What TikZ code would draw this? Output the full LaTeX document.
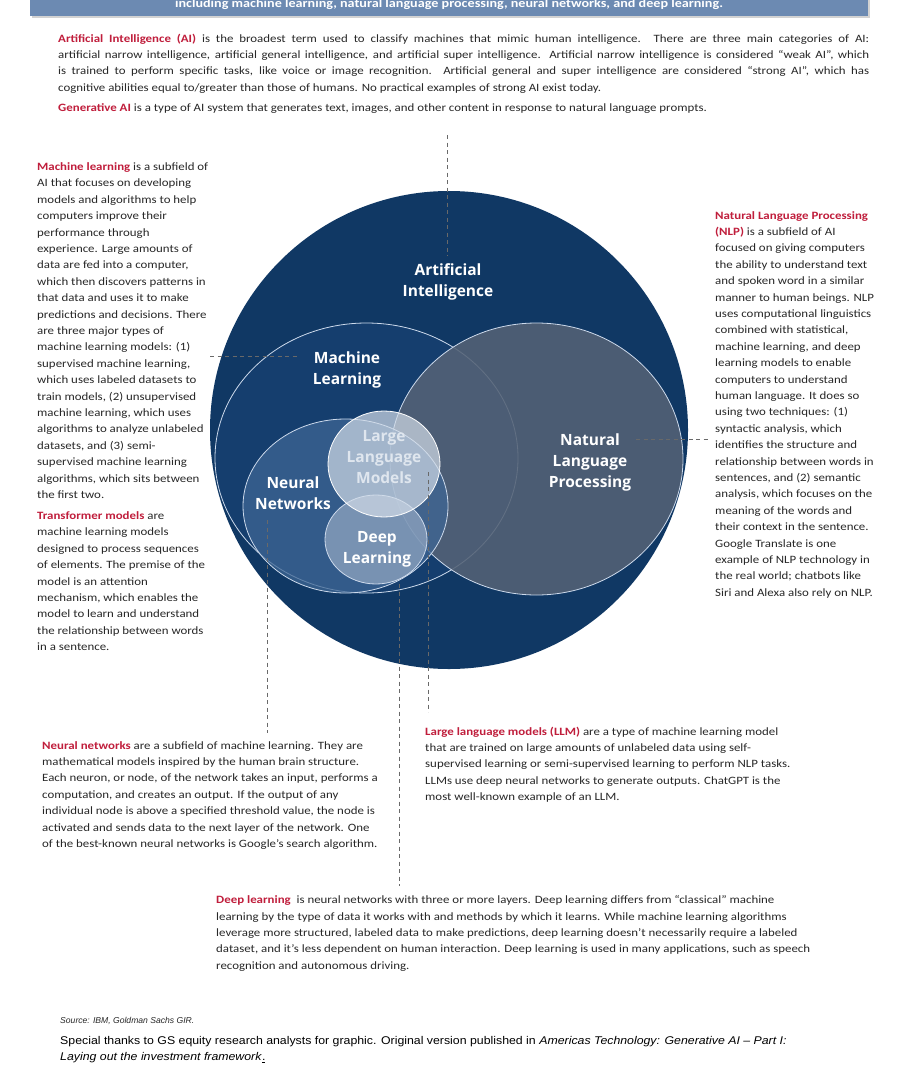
\documentclass[tikz,border=0pt]{standalone}
\usepackage{fontspec}
\setmainfont{Carlito}[FakeStretch=1.15]
\newfontfamily\labelfont{Open Sans}
\newfontfamily\srcfont{Liberation Sans}
\newfontfamily\thxfont{Liberation Sans}[FakeStretch=1.1]
\usetikzlibrary{shapes.geometric}
\definecolor{aired}{RGB}{192,30,60}
\definecolor{bodytxt}{RGB}{40,40,40}
\definecolor{aiblue}{RGB}{16,56,100}
\definecolor{mlblue}{RGB}{21,62,110}
\definecolor{nlpgray}{RGB}{84,98,118}
\definecolor{nnblue}{RGB}{62,102,148}
\definecolor{dlblue}{RGB}{150,170,196}
\definecolor{llmwhite}{RGB}{210,220,232}
\definecolor{edgewhite}{RGB}{205,218,236}
\definecolor{leadgray}{RGB}{105,105,105}
\definecolor{banner}{RGB}{108,138,178}
\newcommand{\hl}[1]{\textcolor{aired}{\textbf{#1}}}
\begin{document}
\begin{tikzpicture}[x=1pt,y=-1pt,
  bodystyle/.style={inner sep=0pt, anchor=north west, align=left, text=bodytxt,
     font=\fontsize{11.2}{16.4}\selectfont},
  blob/.style={ellipse, inner sep=0pt, draw=edgewhite, line width=0.8pt},
  biglabel/.style={text=white, align=center, inner sep=0pt,
     font=\labelfont\bfseries\fontsize{15.5}{21}\selectfont},
  leader/.style={draw=leadgray, line width=0.9pt, dash pattern=on 4pt off 3.5pt}]
\useasboundingbox (0,0) rectangle (903,1065);
\fill[white] (0,0) rectangle (903,1065);

% banner
\fill[gray!35] (32,0) rectangle (870,18.5);
\fill[banner] (30,-2) rectangle (868,16.5);
\node[anchor=base, text=white, inner sep=0pt, font=\bfseries\fontsize{12.3}{14}\selectfont] (bannertxt) at (449,7.5)
  {including machine learning, natural language processing, neural networks, and deep learning.};

% top paragraph
\node[bodystyle, align=justify, text width=811pt] (toptxt) at (58,33.5)
 {\hl{Artificial Intelligence (AI)} is the broadest term used to classify machines that mimic human intelligence. There are three main categories of AI:\linebreak
 artificial narrow intelligence, artificial general intelligence, and artificial super intelligence. Artificial narrow intelligence is considered “weak AI”, which\linebreak
 is trained to perform specific tasks, like voice or image recognition. Artificial general and super intelligence are considered “strong AI”, which has\linebreak
 cognitive abilities equal to/greater than those of humans. No practical examples of strong AI exist today.\par};
\node[bodystyle] (gentxt) at (58,103)
 {\hl{Generative AI} is a type of AI system that generates text, images, and other content in response to natural language prompts.};

% diagram
\node[ellipse, inner sep=0pt, fill=aiblue, minimum width=478pt, minimum height=478pt] (ai) at (449,430) {};
\node[blob, fill=mlblue, minimum width=303pt, minimum height=270pt] (ml) at (366.5,458) {};
\node[blob, fill=nlpgray, fill opacity=0.88, minimum width=293pt, minimum height=272pt] (nlp) at (536.5,459) {};
\node[blob, fill=nnblue, fill opacity=0.75, minimum width=205pt, minimum height=174pt] (nn) at (345.5,506) {};
\node[blob, fill=dlblue, fill opacity=0.7, minimum width=102pt, minimum height=89pt] (dl) at (376,539.5) {};
\node[biglabel] (llmlabel) at (384,457) {Large\\Language\\Models};
\node[blob, draw=white, fill=llmwhite, fill opacity=0.7, minimum width=112pt, minimum height=106pt] (llm) at (384,464) {};

% leader lines
\coordinate (ldTopA) at (447,135);  \coordinate (ldTopB) at (447,256);
\coordinate (ldMLa) at (210,356);   \coordinate (ldMLb) at (297,356);
\coordinate (ldNLPa) at (636,439);  \coordinate (ldNLPb) at (708,439);
\coordinate (ldNNa) at (267,520);   \coordinate (ldNNb) at (267,733);
\coordinate (ldDLa) at (399,584);   \coordinate (ldDLb) at (399,886);
\coordinate (ldLLMa) at (428,472);  \coordinate (ldLLMb) at (428,712);
\draw[leader] (ldTopA) -- (ldTopB);
\draw[leader] (ldMLa) -- (ldMLb);
\draw[leader] (ldNLPa) -- (ldNLPb);
\draw[leader] (ldNNa) -- (ldNNb);
\draw[leader] (ldDLa) -- (ldDLb);
\draw[leader] (ldLLMa) -- (ldLLMb);

\node[biglabel] (ailabel) at (448,282) {Artificial\\Intelligence};
\node[biglabel] (mllabel) at (347,370) {Machine\\Learning};
\node[biglabel] (nlplabel) at (590,462) {Natural\\Language\\Processing};
\node[biglabel] (nnlabel) at (293,493) {Neural\\Networks};
\node[biglabel] (dllabel) at (377,549) {Deep\\Learning};

% left text
\node[bodystyle] (mltxt) at (37,162.5)
 {\hl{Machine learning} is a subfield of\\
 AI that focuses on developing\\
 models and algorithms to help\\
 computers improve their\\
 performance through\\
 experience. Large amounts of\\
 data are fed into a computer,\\
 which then discovers patterns in\\
 that data and uses it to make\\
 predictions and decisions. There\\
 are three major types of\\
 machine learning models: (1)\\
 supervised machine learning,\\
 which uses labeled datasets to\\
 train models, (2) unsupervised\\
 machine learning, which uses\\
 algorithms to analyze unlabeled\\
 datasets, and (3) semi-\\
 supervised machine learning\\
 algorithms, which sits between\\
 the first two.};
\node[bodystyle] (trtxt) at (37,511.5)
 {\hl{Transformer models} are\\
 machine learning models\\
 designed to process sequences\\
 of elements. The premise of the\\
 model is an attention\\
 mechanism, which enables the\\
 model to learn and understand\\
 the relationship between words\\
 in a sentence.};

% right text
\node[bodystyle] (nlptxt) at (715,211)
 {\hl{Natural Language Processing}\\
 \hl{(NLP)} is a subfield of AI\\
 focused on giving computers\\
 the ability to understand text\\
 and spoken word in a similar\\
 manner to human beings. NLP\\
 uses computational linguistics\\
 combined with statistical,\\
 machine learning, and deep\\
 learning models to enable\\
 computers to understand\\
 human language. It does so\\
 using two techniques: (1)\\
 syntactic analysis, which\\
 identifies the structure and\\
 relationship between words in\\
 sentences, and (2) semantic\\
 analysis, which focuses on the\\
 meaning of the words and\\
 their context in the sentence.\\
 Google Translate is one\\
 example of NLP technology in\\
 the real world; chatbots like\\
 Siri and Alexa also rely on NLP.};

% bottom texts
\node[bodystyle] (nntxt) at (42,741)
 {\hl{Neural networks} are a subfield of machine learning. They are\\
 mathematical models inspired by the human brain structure.\\
 Each neuron, or node, of the network takes an input, performs a\\
 computation, and creates an output. If the output of any\\
 individual node is above a specified threshold value, the node is\\
 activated and sends data to the next layer of the network. One\\
 of the best-known neural networks is Google’s search algorithm.};
\node[bodystyle] (llmtxt) at (425,726.5)
 {\hl{Large language models (LLM)} are a type of machine learning model\\
 that are trained on large amounts of unlabeled data using self-\\
 supervised learning or semi-supervised learning to perform NLP tasks.\\
 LLMs use deep neural networks to generate outputs. ChatGPT is the\\
 most well-known example of an LLM.};
\node[bodystyle] (dltxt) at (216,895.5)
 {\hl{Deep learning}\ \ is neural networks with three or more layers. Deep learning differs from “classical” machine\\
 learning by the type of data it works with and methods by which it learns. While machine learning algorithms\\
 leverage more structured, labeled data to make predictions, deep learning doesn’t necessarily require a labeled\\
 dataset, and it’s less dependent on human interaction. Deep learning is used in many applications, such as speech\\
 recognition and autonomous driving.};

% source
\node[inner sep=0pt, anchor=base west, text=bodytxt, font=\srcfont\itshape\fontsize{8.6}{12}\selectfont] (srctxt) at (60,1023)
 {Source: IBM, Goldman Sachs GIR.};
\node[inner sep=0pt, anchor=north west, align=left, text=black, font=\thxfont\fontsize{11.2}{16}\selectfont] (thanks) at (60,1036)
 {Special thanks to GS equity research analysts for graphic. Original version published in \textit{Americas Technology: Generative AI – Part I:}\\
 \textit{Laying out the investment framework}\underline{.}};
\end{tikzpicture}
\end{document}
